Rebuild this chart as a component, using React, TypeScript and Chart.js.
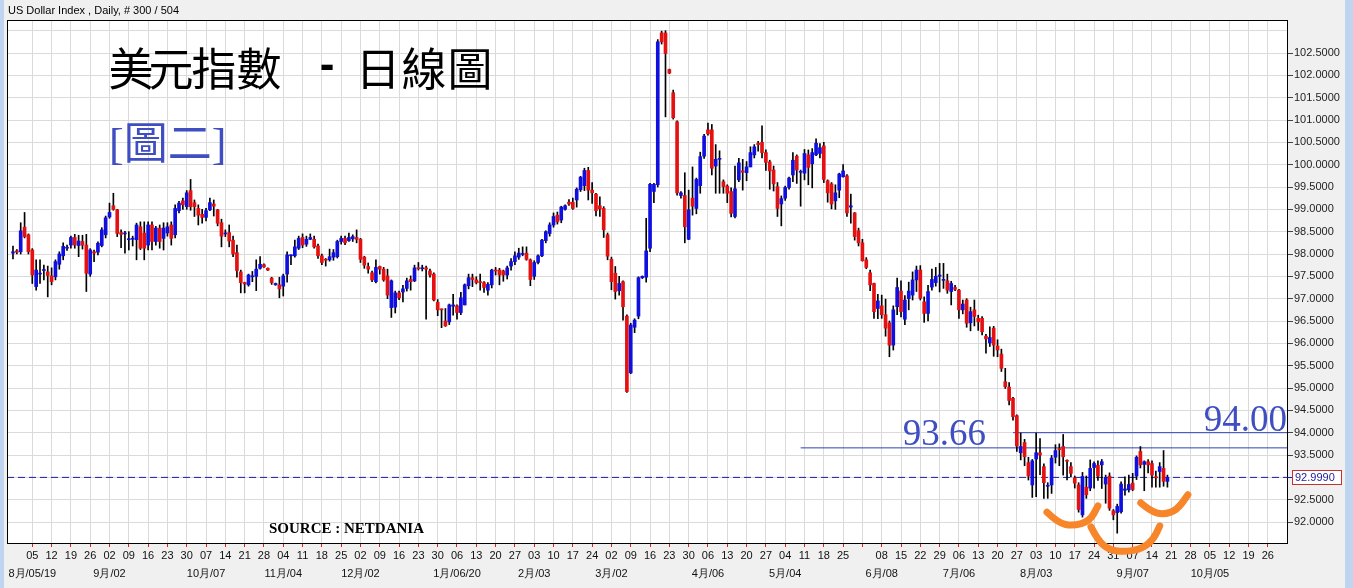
import React, { useEffect, useRef } from "react";
import { Chart, registerables } from "chart.js";

Chart.register(...registerables);

// ---- Daily candles (one per trading day, index 0 = first bar shown) ----
const opens = [
  98.02, 98.07, 98.05, 98.60, 98.43, 98.09, 97.27, 97.55, 97.63, 97.60,
  97.51, 97.49, 97.77, 97.96, 98.13, 98.20, 98.37, 98.19, 98.28, 98.20,
  97.55, 98.05, 98.04, 98.19, 98.43, 98.83, 99.08, 98.99, 98.48, 98.45,
  98.32, 98.33, 98.32, 98.61, 98.47, 98.20, 98.65, 98.28, 98.58, 98.35,
  98.47, 98.65, 98.43, 98.97, 99.19, 99.06, 99.42, 99.15, 99.02, 98.89,
  98.82, 98.99, 99.12, 98.99, 98.70, 98.45, 98.48, 98.31, 98.03, 97.60,
  97.36, 97.31, 97.49, 97.50, 97.68, 97.76, 97.68, 97.46, 97.31, 97.31,
  97.28, 97.55, 97.96, 97.96, 98.13, 98.37, 98.22, 98.33, 98.33, 98.18,
  97.96, 97.87, 97.87, 97.93, 97.94, 98.28, 98.35, 98.30, 98.34, 98.37,
  98.33, 97.93, 97.72, 97.58, 97.38, 97.72, 97.66, 97.51, 96.80, 96.81,
  97.13, 97.15, 97.23, 97.43, 97.40, 97.68, 97.67, 97.69, 97.62, 97.55,
  96.92, 96.76, 96.50, 96.48, 96.83, 96.84, 96.69, 96.86, 97.29, 97.47,
  97.42, 97.37, 97.36, 97.19, 97.31, 97.64, 97.64, 97.62, 97.53, 97.73,
  97.83, 97.93, 97.99, 98.02, 97.87, 97.50, 97.81, 97.96, 98.30, 98.46,
  98.65, 98.87, 98.76, 99.00, 99.16, 99.16, 99.21, 99.44, 99.53, 99.87,
  99.43, 99.34, 99.08, 99.02, 98.43, 97.88, 97.57, 97.18, 97.38, 96.61,
  95.34, 96.36, 96.61, 97.47, 97.48, 98.13, 99.40, 99.55, 102.95, 102.95,
  102.13, 101.61, 100.96, 99.31, 99.31, 98.33, 99.25, 99.02, 99.53, 100.19,
  100.78, 100.78, 99.97, 100.12, 99.62, 99.52, 99.40, 98.84, 99.66, 99.86,
  99.82, 99.95, 100.22, 100.48, 100.50, 100.27, 100.06, 99.88, 99.51, 99.12,
  99.25, 99.49, 99.77, 100.19, 99.83, 99.81, 100.22, 100.02, 100.22, 100.25,
  100.42, 99.64, 99.57, 99.19, 99.43, 99.73, 99.75, 99.05, 98.92, 98.52,
  98.25, 97.87, 97.58, 97.34, 96.78, 96.84, 96.64, 96.46, 95.96, 96.82,
  97.17, 96.54, 97.00, 97.08, 97.42, 97.64, 96.93, 96.67, 97.26, 97.36,
  97.50, 97.41, 97.40, 97.16, 97.25, 97.19, 96.75, 96.97, 96.46, 96.75,
  96.56, 96.56, 96.16, 96.01, 96.34, 95.94, 95.76, 95.14, 95.02, 94.77,
  94.38, 93.55, 93.78, 93.33, 92.83, 93.41, 93.55, 93.24, 92.80, 92.83,
  93.45, 93.63, 93.69, 93.38, 93.24, 92.99, 92.83, 92.16, 92.78, 92.76,
  93.22, 93.27, 93.28, 92.85, 93.03, 92.25, 92.21, 92.23, 92.71, 92.72,
  92.87, 93.03, 93.58, 93.29, 93.35, 93.31, 93.00, 93.13, 93.20, 92.91,
];

const highs = [
  98.18, 98.10, 98.70, 98.93, 98.45, 98.12, 97.87, 97.87, 97.75, 97.73,
  97.69, 97.87, 98.05, 98.25, 98.20, 98.40, 98.44, 98.42, 98.42, 98.44,
  98.12, 98.09, 98.27, 98.59, 98.85, 99.14, 99.36, 99.00, 98.54, 98.51,
  98.50, 98.40, 98.69, 98.72, 98.72, 98.72, 98.72, 98.62, 98.65, 98.70,
  98.70, 98.72, 99.10, 99.18, 99.25, 99.42, 99.67, 99.21, 99.10, 99.00,
  99.02, 99.25, 99.21, 99.00, 98.78, 98.54, 98.65, 98.40, 98.20, 97.64,
  97.37, 97.55, 97.61, 97.87, 97.94, 97.78, 97.69, 97.48, 97.35, 97.48,
  97.55, 98.05, 97.98, 98.31, 98.40, 98.45, 98.40, 98.45, 98.40, 98.22,
  98.00, 97.90, 98.11, 98.10, 98.31, 98.40, 98.40, 98.47, 98.43, 98.54,
  98.35, 97.95, 97.80, 97.62, 97.87, 97.73, 97.70, 97.66, 97.42, 97.17,
  97.17, 97.30, 97.46, 97.51, 97.75, 97.81, 97.75, 97.73, 97.66, 97.58,
  96.98, 96.77, 96.78, 96.88, 97.10, 96.86, 97.14, 97.33, 97.55, 97.55,
  97.49, 97.55, 97.38, 97.36, 97.66, 97.70, 97.68, 97.64, 97.73, 97.90,
  98.05, 98.13, 98.16, 98.16, 97.89, 97.85, 97.98, 98.33, 98.52, 98.70,
  98.92, 98.94, 99.07, 99.10, 99.22, 99.25, 99.48, 99.74, 99.92, 99.94,
  99.60, 99.36, 99.28, 99.06, 98.47, 97.93, 97.72, 97.50, 97.40, 96.64,
  96.45, 96.55, 97.49, 97.51, 98.80, 99.58, 99.58, 102.80, 102.99, 103.00,
  102.14, 101.67, 100.98, 99.40, 99.82, 99.43, 99.95, 99.70, 100.28, 100.68,
  100.93, 100.90, 100.45, 100.31, 99.66, 99.55, 99.48, 99.97, 100.14, 100.12,
  100.07, 100.40, 100.45, 100.52, 100.87, 100.33, 100.10, 99.97, 99.60, 99.30,
  99.52, 99.72, 100.27, 100.22, 99.88, 100.34, 100.33, 100.36, 100.58, 100.47,
  100.50, 99.66, 99.60, 99.55, 99.81, 100.00, 99.78, 99.34, 98.93, 98.58,
  98.33, 97.92, 97.64, 97.35, 97.10, 97.08, 96.99, 96.50, 96.84, 97.46,
  97.40, 97.07, 97.37, 97.60, 97.73, 97.74, 97.04, 97.30, 97.66, 97.70,
  97.79, 97.79, 97.55, 97.39, 97.30, 97.21, 96.97, 97.00, 96.81, 96.97,
  96.63, 96.60, 96.20, 96.37, 96.38, 96.08, 95.87, 95.44, 95.12, 94.79,
  94.40, 93.99, 93.85, 93.45, 93.40, 93.99, 93.87, 93.30, 92.88, 93.49,
  93.73, 93.75, 93.96, 93.39, 93.33, 93.03, 92.88, 93.11, 93.03, 93.39,
  93.35, 93.37, 93.40, 93.05, 93.10, 92.28, 92.40, 92.90, 93.01, 93.05,
  93.09, 93.48, 93.69, 93.37, 93.40, 93.37, 93.14, 93.33, 93.60, 93.05,
];

const lows = [
  97.89, 98.00, 98.00, 98.36, 98.00, 97.34, 97.19, 97.34, 97.42, 97.04,
  97.31, 97.42, 97.66, 97.87, 98.08, 98.13, 98.13, 97.94, 98.11, 97.16,
  97.50, 97.83, 97.98, 98.16, 98.36, 98.80, 98.98, 98.39, 98.14, 98.02,
  98.09, 98.18, 97.87, 98.10, 97.87, 98.09, 98.09, 98.20, 98.13, 98.09,
  98.40, 98.20, 98.36, 98.92, 99.00, 99.00, 98.98, 98.84, 98.65, 98.69,
  98.74, 98.97, 98.85, 98.63, 98.16, 98.39, 98.16, 97.94, 97.48, 97.13,
  97.13, 97.28, 97.38, 97.18, 97.66, 97.70, 97.63, 97.32, 97.30, 97.02,
  97.06, 97.37, 97.76, 97.93, 98.10, 98.14, 98.17, 98.32, 98.13, 97.90,
  97.76, 97.73, 97.84, 97.86, 97.91, 98.22, 98.21, 98.28, 98.28, 98.25,
  97.81, 97.68, 97.57, 97.38, 97.35, 97.55, 97.39, 97.00, 96.58, 96.68,
  96.98, 96.93, 97.17, 97.19, 97.38, 97.64, 97.62, 96.54, 97.48, 96.95,
  96.62, 96.35, 96.38, 96.42, 96.63, 96.54, 96.64, 96.86, 97.22, 97.27,
  97.33, 97.19, 97.14, 97.08, 97.24, 97.53, 97.31, 97.39, 97.44, 97.64,
  97.76, 97.88, 97.96, 97.86, 97.29, 97.43, 97.78, 97.94, 98.25, 98.40,
  98.60, 98.67, 98.70, 98.98, 99.09, 99.00, 99.05, 99.40, 99.42, 99.21,
  99.13, 98.85, 98.84, 98.37, 97.87, 97.20, 96.99, 97.08, 96.52, 94.90,
  95.32, 96.24, 96.55, 97.45, 97.37, 98.05, 99.15, 99.50, 102.70, 101.07,
  102.04, 101.02, 99.32, 99.25, 98.25, 98.32, 98.87, 98.90, 99.36, 100.14,
  100.66, 99.77, 99.36, 99.36, 99.36, 99.15, 98.83, 98.81, 99.62, 99.43,
  99.64, 99.95, 100.15, 100.30, 100.15, 99.87, 99.45, 99.41, 98.84, 98.63,
  99.20, 99.45, 99.62, 99.58, 99.07, 99.66, 99.55, 99.48, 100.20, 100.15,
  99.60, 99.16, 99.01, 99.00, 99.26, 99.72, 98.84, 98.69, 98.31, 98.18,
  97.84, 97.67, 97.18, 96.56, 96.55, 96.56, 96.16, 95.70, 95.85, 96.64,
  96.59, 96.42, 96.75, 96.97, 97.16, 96.97, 96.47, 96.50, 97.19, 97.28,
  97.15, 97.23, 97.12, 96.86, 97.18, 96.56, 96.66, 96.36, 96.28, 96.39,
  96.29, 96.19, 95.78, 95.93, 95.71, 95.70, 95.37, 94.99, 94.62, 94.28,
  93.58, 93.39, 93.26, 92.94, 92.55, 92.57, 93.06, 92.53, 92.53, 92.64,
  93.32, 93.26, 93.05, 92.94, 93.01, 92.76, 92.22, 92.11, 92.53, 92.70,
  92.76, 92.93, 92.75, 92.42, 92.26, 92.05, 91.75, 92.20, 92.60, 92.67,
  92.70, 92.95, 93.21, 92.70, 93.10, 92.78, 92.78, 92.78, 92.80, 92.78,
];

const closes = [
  98.05, 98.04, 98.52, 98.39, 98.05, 97.53, 97.64, 97.56, 97.63, 97.52,
  97.38, 97.83, 98.00, 98.17, 98.15, 98.37, 98.20, 98.29, 98.20, 97.57,
  98.09, 98.02, 98.24, 98.54, 98.81, 98.93, 99.00, 98.46, 98.44, 98.47,
  98.34, 98.33, 98.65, 98.13, 98.13, 98.65, 98.28, 98.58, 98.28, 98.58,
  98.61, 98.35, 99.02, 99.14, 99.10, 99.37, 99.06, 99.06, 98.87, 98.82,
  98.97, 99.15, 99.07, 98.69, 98.40, 98.45, 98.29, 98.00, 97.63, 97.36,
  97.33, 97.53, 97.50, 97.66, 97.77, 97.71, 97.64, 97.36, 97.34, 97.22,
  97.51, 97.98, 97.96, 98.16, 98.35, 98.20, 98.33, 98.37, 98.16, 97.96,
  97.81, 97.86, 97.94, 98.03, 98.28, 98.35, 98.25, 98.37, 98.39, 98.33,
  97.88, 97.75, 97.66, 97.42, 97.70, 97.66, 97.42, 97.08, 97.40, 97.13,
  97.02, 97.22, 97.40, 97.38, 97.69, 97.67, 97.69, 97.66, 97.53, 96.97,
  96.75, 96.75, 96.39, 96.86, 96.86, 96.69, 97.02, 97.31, 97.47, 97.43,
  97.36, 97.36, 97.25, 97.32, 97.64, 97.62, 97.53, 97.53, 97.69, 97.83,
  97.96, 98.02, 98.01, 97.88, 97.43, 97.81, 97.96, 98.31, 98.50, 98.65,
  98.84, 98.72, 99.05, 99.08, 99.12, 99.02, 99.45, 99.72, 99.87, 99.43,
  99.37, 98.97, 99.01, 98.54, 97.95, 97.38, 97.16, 97.34, 96.82, 94.92,
  96.41, 96.52, 97.47, 97.50, 98.07, 99.56, 99.56, 102.75, 102.75, 102.49,
  102.05, 101.05, 99.37, 99.37, 98.61, 98.99, 99.07, 99.67, 100.18, 100.64,
  100.69, 99.92, 100.12, 100.13, 99.51, 99.36, 98.91, 99.46, 100.04, 99.83,
  99.95, 100.27, 100.40, 100.45, 100.27, 100.05, 99.86, 99.57, 99.02, 99.24,
  99.49, 99.70, 100.10, 99.88, 99.85, 100.25, 99.94, 100.27, 100.48, 100.38,
  99.67, 99.37, 99.12, 99.37, 99.79, 99.86, 98.92, 99.08, 98.39, 98.25,
  97.85, 97.70, 97.31, 96.71, 96.95, 96.64, 96.34, 95.96, 96.75, 97.25,
  96.71, 96.97, 97.17, 97.42, 97.64, 97.01, 96.67, 97.16, 97.43, 97.50,
  97.53, 97.42, 97.19, 97.34, 97.21, 96.75, 96.88, 96.45, 96.71, 96.60,
  96.48, 96.26, 96.10, 96.13, 95.96, 95.85, 95.44, 95.03, 94.72, 94.36,
  93.70, 93.69, 93.46, 93.03, 93.37, 93.55, 93.50, 92.88, 92.81, 93.43,
  93.60, 93.62, 93.46, 93.36, 93.09, 92.87, 92.28, 93.02, 92.61, 93.20,
  93.31, 93.03, 93.35, 93.00, 92.31, 92.16, 92.35, 92.85, 92.74, 92.84,
  92.73, 93.45, 93.28, 93.35, 93.28, 93.05, 92.99, 93.24, 92.91, 93.00,
];

// ---- Axis tick labels (weekly, Mondays) ----
const weekLabels = [
  "05", "12", "19", "26", "02", "09", "16", "23", "30", "07", "14", "21", "28",
  "04", "11", "18", "25", "02", "09", "16", "23", "30", "06", "13", "20", "27",
  "03", "10", "17", "24", "02", "09", "16", "23", "30", "06", "13", "20", "27",
  "04", "11", "18", "25", "", "08", "15", "22", "29", "06", "13", "20", "27",
  "03", "10", "17", "24", "31", "07", "14", "21", "28", "05", "12", "19", "26",
];
const monthLabels = [
  "8月/05/19", "", "", "", "9月/02", "", "", "", "", "10月/07", "", "", "",
  "11月/04", "", "", "", "12月/02", "", "", "", "", "1月/06/20", "", "", "",
  "2月/03", "", "", "", "3月/02", "", "", "", "", "4月/06", "", "", "",
  "5月/04", "", "", "", "", "6月/08", "", "", "", "7月/06", "", "", "",
  "8月/03", "", "", "", "", "9月/07", "", "", "", "10月/05", "", "", "",
];
const yTickValues = [
  92.0, 92.5, 93.0, 93.5, 94.0, 94.5, 95.0, 95.5, 96.0, 96.5, 97.0, 97.5,
  98.0, 98.5, 99.0, 99.5, 100.0, 100.5, 101.0, 101.5, 102.0, 102.5, 103.0,
];

// ---- Annotations ----
const lastPrice = 92.999;
const supportLevel = 93.66;
const supportStart = 204;
const resistLevel = 94.0;
const resistStart = 259;
const arcBottomLeft = [[267.8, 92.22], [270.7, 91.98], [274.5, 91.91], [278.9, 92.02], [281.0, 92.36]];
const arcBottomMid = [[279.2, 91.89], [281.0, 91.58], [284.1, 91.37], [288.0, 91.33], [292.4, 91.40], [295.3, 91.60], [297.0, 91.91]];
const arcBottomRight = [[292.1, 92.43], [294.5, 92.25], [297.9, 92.16], [301.5, 92.27], [304.3, 92.61]];

const FIRST_MONDAY = 5;
const X_MIN = -1.55;
const X_MAX = 329.97;
const Y_MIN = 91.53;
const Y_MAX = 103.239;

const BLUE = "#0f0fe0";
const RED = "#e51010";

const decorPlugin = {
  id: "decor",
  beforeDraw(chart: any) {
    const { ctx, chartArea: a, width, height } = chart;
    ctx.save();
    ctx.fillStyle = "#f0f0f0";
    ctx.fillRect(0, 0, width, height);
    ctx.fillStyle = "#bfd4ee";
    ctx.fillRect(0, 0, 4, height);
    ctx.fillRect(width - 8, 0, 8, height);
    ctx.fillStyle = "#ffffff";
    ctx.fillRect(a.left, a.top, a.right - a.left, a.bottom - a.top);
    ctx.fillStyle = "#000";
    ctx.font = '11px "Liberation Sans", Arial, sans-serif';
    ctx.textBaseline = "middle";
    ctx.textAlign = "left";
    ctx.fillText("US Dollar Index , Daily, # 300 / 504", 8, 11);
    ctx.restore();
  },
  afterDraw(chart: any) {
    const { ctx, chartArea: a, scales } = chart;
    const xs = scales.x;
    const ys = scales.y;
    ctx.save();
    // plot frame
    ctx.strokeStyle = "#000";
    ctx.lineWidth = 1;
    ctx.strokeRect(a.left + 0.5, a.top + 0.5, a.right - a.left, a.bottom - a.top);

    // title
    ctx.fillStyle = "#000";
    ctx.font = '45px "Noto Sans CJK TC", sans-serif';
    ctx.textAlign = "center";
    ctx.textBaseline = "middle";
    const t1 = ["美", "元", "指", "數"];
    const c1 = [131, 171, 214, 259];
    t1.forEach((ch, i) => ctx.fillText(ch, c1[i], 69));
    const t2 = ["日", "線", "圖"];
    const c2 = [378, 424, 470];
    t2.forEach((ch, i) => ctx.fillText(ch, c2[i], 69));
    ctx.font = 'bold 44px "Liberation Sans", sans-serif';
    ctx.fillText("-", 327, 67);

    // subtitle
    ctx.fillStyle = "#3f4fc2";
    ctx.textAlign = "left";
    ctx.textBaseline = "alphabetic";
    ctx.font = '44px "Liberation Serif", "Noto Sans CJK TC", serif';
    ctx.fillText("[圖二]", 109, 159);

    // level labels
    ctx.font = '37px "Liberation Serif", serif';
    ctx.textAlign = "right";
    ctx.fillText(supportLevel.toFixed(2), xs.getPixelForValue(252), ys.getPixelForValue(supportLevel) - 2.5);
    ctx.fillText(resistLevel.toFixed(2), a.right, ys.getPixelForValue(resistLevel) - 1.5);

    // source
    ctx.fillStyle = "#000";
    ctx.textAlign = "left";
    ctx.font = 'bold 15px "Liberation Serif", serif';
    ctx.fillText("SOURCE : NETDANIA", 269, 533);

    // last price box
    const py = Math.round(ys.getPixelForValue(lastPrice)) + 0.5;
    ctx.strokeStyle = "#1a1a9a";
    ctx.beginPath();
    ctx.moveTo(a.right, py);
    ctx.lineTo(a.right + 5, py);
    ctx.stroke();
    ctx.fillStyle = "#ffffff";
    ctx.fillRect(a.right + 5, py - 7, 50, 14);
    ctx.strokeStyle = "#c83030";
    ctx.strokeRect(a.right + 5.5, py - 7, 49, 14);
    ctx.fillStyle = "#1a1a9a";
    ctx.font = '11px "Liberation Sans", Arial, sans-serif';
    ctx.textBaseline = "middle";
    ctx.fillText(lastPrice.toFixed(4), a.right + 8, py + 0.5);

    // orange hand-drawn marks
    ctx.strokeStyle = "#f7852a";
    ctx.lineWidth = 7;
    ctx.lineCap = "round";
    ctx.lineJoin = "round";
    [arcBottomLeft, arcBottomMid, arcBottomRight].forEach((pts) => {
      const p = pts.map(([d, v]) => [xs.getPixelForValue(d), ys.getPixelForValue(v)]);
      ctx.beginPath();
      ctx.moveTo(p[0][0], p[0][1]);
      for (let i = 1; i < p.length - 1; i++) {
        const mx = (p[i][0] + p[i + 1][0]) / 2;
        const my = (p[i][1] + p[i + 1][1]) / 2;
        ctx.quadraticCurveTo(p[i][0], p[i][1], mx, my);
      }
      ctx.lineTo(p[p.length - 1][0], p[p.length - 1][1]);
      ctx.stroke();
    });
    ctx.restore();
  },
};

export default function App() {
  const ref = useRef<HTMLCanvasElement | null>(null);

  useEffect(() => {
    if (!ref.current) return;
    const bodies = opens.map((o, i) => ({ x: i, y: [o, closes[i]] }));
    const wicks = lows.map((l, i) => ({ x: i, y: [l, highs[i]] }));
    const bodyColors = opens.map((o, i) => (closes[i] >= o ? BLUE : RED));

    const chart = new Chart(ref.current, {
      type: "bar",
      data: {
        datasets: [
          {
            type: "bar",
            label: "body",
            data: bodies as any,
            backgroundColor: bodyColors,
            barThickness: 3,
            grouped: false,
            minBarLength: 1,
            borderWidth: 0,
            order: 0,
          } as any,
          {
            type: "bar",
            label: "wick",
            data: wicks as any,
            backgroundColor: "#000",
            barThickness: 1,
            grouped: false,
            borderWidth: 0,
            order: 1,
          } as any,
          {
            type: "line",
            label: "last",
            data: [{ x: X_MIN, y: lastPrice }, { x: X_MAX, y: lastPrice }],
            borderColor: "#1c1c9e",
            borderWidth: 1,
            borderDash: [7, 4],
            pointRadius: 0,
            order: 2,
          } as any,
          {
            type: "line",
            label: "support",
            data: [{ x: supportStart, y: supportLevel }, { x: X_MAX, y: supportLevel }],
            borderColor: "#3342b4",
            borderWidth: 1,
            pointRadius: 0,
            order: 2,
          } as any,
          {
            type: "line",
            label: "resist",
            data: [{ x: resistStart, y: resistLevel }, { x: X_MAX, y: resistLevel }],
            borderColor: "#3342b4",
            borderWidth: 1,
            pointRadius: 0,
            order: 2,
          } as any,
        ],
      },
      options: {
        responsive: false,
        maintainAspectRatio: false,
        devicePixelRatio: 1,
        animation: false,
        events: [],
        layout: { padding: { left: 7, top: 20, right: 0, bottom: 0 } },
        plugins: { legend: { display: false }, tooltip: { enabled: false }, title: { display: false } },
        scales: {
          x: {
            type: "linear",
            min: X_MIN,
            max: X_MAX,
            offset: false,
            afterBuildTicks: (scale: any) => {
              scale.ticks = weekLabels.map((_, w) => ({ value: FIRST_MONDAY + 5 * w }));
            },
            afterFit: (scale: any) => {
              scale.height = 45;
            },
            ticks: {
              autoSkip: false,
              maxRotation: 0,
              minRotation: 0,
              padding: 0,
              color: "#111",
              font: { size: 11, family: '"Liberation Sans", Arial, sans-serif', lineHeight: "18px" },
              callback: (_v: any, i: number) => [weekLabels[i], monthLabels[i]],
            },
            grid: { color: "#dadada", offset: false, tickColor: "#e02020", tickLength: 4, lineWidth: 1 },
            border: { color: "#000", width: 1 },
          } as any,
          y: {
            type: "linear",
            position: "right",
            min: Y_MIN,
            max: Y_MAX,
            beginAtZero: false,
            afterBuildTicks: (scale: any) => {
              scale.ticks = yTickValues.map((v) => ({ value: v }));
            },
            afterFit: (scale: any) => {
              scale.width = 66;
            },
            ticks: {
              padding: 1,
              color: "#222",
              font: { size: 11, family: '"Liberation Sans", Arial, sans-serif' },
              callback: (v: any) => (Number(v) > 102.9 ? "" : Number(v).toFixed(4)),
            },
            grid: {
              color: "#dadada",
              tickLength: 6,
              tickColor: (c: any) => (c.tick && c.tick.value > 102.9 ? "rgba(0,0,0,0)" : "#444"),
            },
            border: { color: "#000", width: 1 },
          } as any,
        },
      } as any,
      plugins: [decorPlugin],
    });
    return () => chart.destroy();
  }, []);

  return (
    <div style={{ position: "absolute", left: 0, top: 0, width: 1353, height: 588, background: "#f0f0f0" }}>
      <canvas ref={ref} width={1353} height={588} style={{ display: "block", width: 1353, height: 588 }} />
    </div>
  );
}
